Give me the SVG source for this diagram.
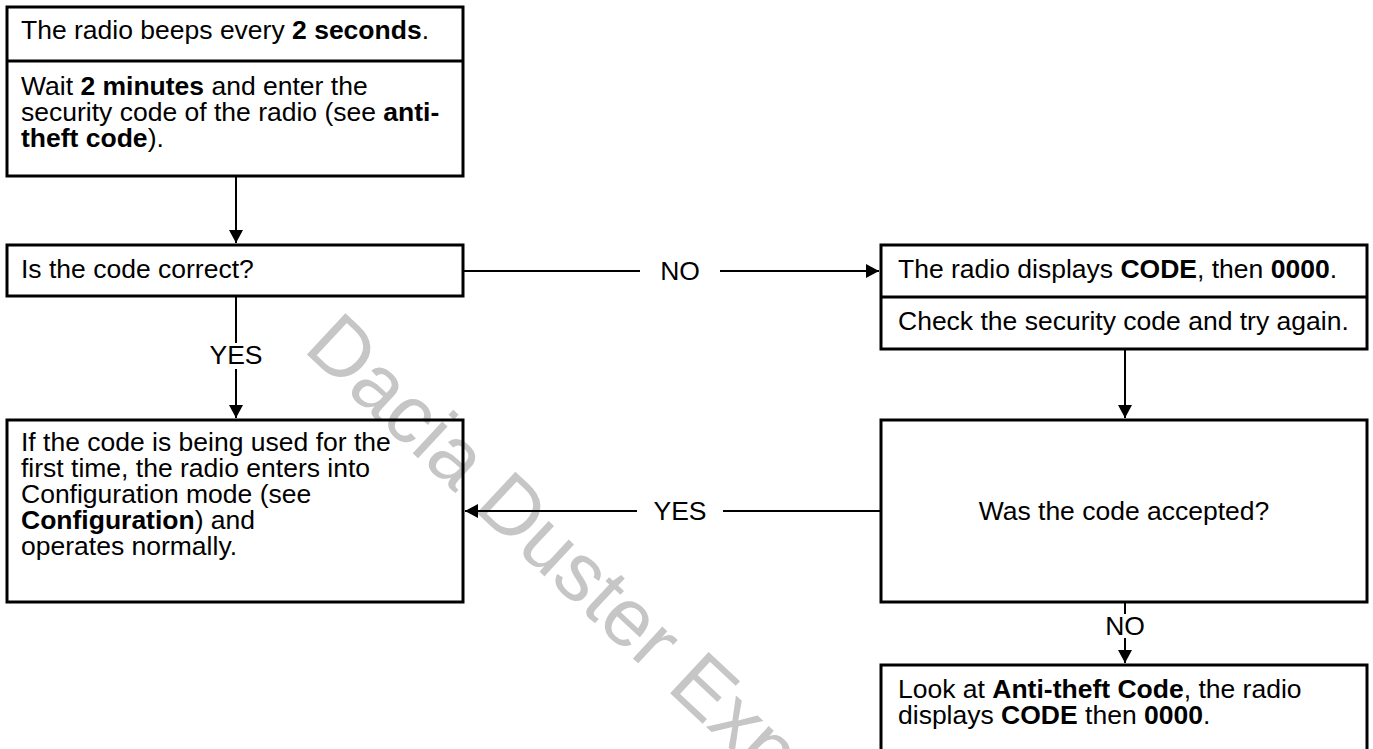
<svg xmlns="http://www.w3.org/2000/svg" width="1373" height="749" viewBox="0 0 1373 749">
<defs>
<style>
.box{fill:none;stroke:#000;stroke-width:3}
.div{stroke:#000;stroke-width:3}
.t{font-family:"Liberation Sans",Arial,sans-serif;font-size:26.5px;fill:#000}
.b{font-weight:bold}
.c{stroke:#000;stroke-width:2;fill:none}
.lbl{font-family:"Liberation Sans",Arial,sans-serif;font-size:26.5px;fill:#000;text-anchor:middle}
.wm{font-family:"Liberation Sans",Arial,sans-serif;font-size:82px;fill:#c6c6c6}
</style>
<marker id="arr" markerWidth="14" markerHeight="14" refX="13" refY="7" orient="auto" markerUnits="userSpaceOnUse"><path d="M0,0 L13,7 L0,14 z" fill="#000"/></marker>
</defs>
<rect width="1373" height="749" fill="#fff"/>
<text class="wm" x="0" y="0" transform="translate(302,350) rotate(43)">Dacia Duster Exp</text>
<g id="connectors">
<path class="c" d="M236,176 V243" marker-end="url(#arr)"/>
<path class="c" d="M236,296 V343"/>
<path class="c" d="M236,369 V418" marker-end="url(#arr)"/>
<path class="c" d="M463,271 H640"/>
<path class="c" d="M720,271 H879" marker-end="url(#arr)"/>
<path class="c" d="M1125,349 V418" marker-end="url(#arr)"/>
<path class="c" d="M881,511 H723"/>
<path class="c" d="M637,511 H465" marker-end="url(#arr)"/>
<path class="c" d="M1125,602 V614"/>
<path class="c" d="M1125,638 V663" marker-end="url(#arr)"/>
<text class="lbl" x="236" y="364">YES</text>
<text class="lbl" x="680" y="280">NO</text>
<text class="lbl" x="680" y="520">YES</text>
<text class="lbl" x="1125" y="635">NO</text>
</g>
<g id="node-beeps">
<rect class="box" x="7" y="7" width="456" height="169"/>
<line class="div" x1="7" y1="61" x2="463" y2="61"/>
<text class="t" x="21" y="39">The radio beeps every <tspan class="b">2 seconds</tspan>.</text>
<text class="t" x="21" y="95">Wait <tspan class="b">2 minutes</tspan> and enter the</text>
<text class="t" x="21" y="121">security code of the radio (see <tspan class="b">anti-</tspan></text>
<text class="t" x="21" y="147"><tspan class="b">theft code</tspan>).</text>
</g>
<g id="node-correct">
<rect class="box" x="7" y="245" width="456" height="51"/>
<text class="t" x="21" y="278">Is the code correct?</text>
</g>
<g id="node-config">
<rect class="box" x="7" y="420" width="456" height="182"/>
<text class="t" x="21" y="451">If the code is being used for the</text>
<text class="t" x="21" y="477">first time, the radio enters into</text>
<text class="t" x="21" y="503">Configuration mode (see</text>
<text class="t" x="21" y="529"><tspan class="b">Configuration</tspan>) and</text>
<text class="t" x="21" y="555">operates normally.</text>
</g>
<g id="node-displays">
<rect class="box" x="881" y="245" width="486" height="104"/>
<line class="div" x1="881" y1="297" x2="1367" y2="297"/>
<text class="t" x="898" y="278">The radio displays <tspan class="b">CODE</tspan>, then <tspan class="b">0000</tspan>.</text>
<text class="t" x="898" y="330">Check the security code and try again.</text>
</g>
<g id="node-accepted">
<rect class="box" x="881" y="420" width="486" height="182"/>
<text class="t" x="1124" y="520" text-anchor="middle">Was the code accepted?</text>
</g>
<g id="node-antitheft">
<rect class="box" x="881" y="665" width="486" height="100"/>
<text class="t" x="898" y="698">Look at <tspan class="b">Anti-theft Code</tspan>, the radio</text>
<text class="t" x="898" y="724">displays <tspan class="b">CODE</tspan> then <tspan class="b">0000</tspan>.</text>
</g>
</svg>
